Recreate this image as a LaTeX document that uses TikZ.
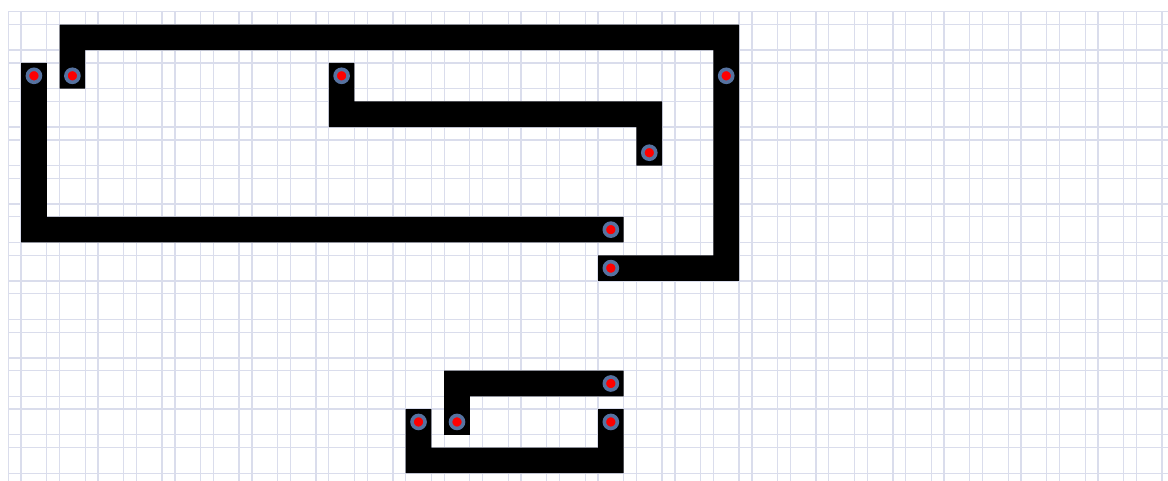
\documentclass[tikz,border=0pt]{standalone}
\usepackage{tikz}
\definecolor{gridline}{RGB}{218,221,236}
\definecolor{pinring}{RGB}{86,114,160}
\tikzset{
  track/.style={fill=black},
  pin/.style={circle, fill=red, draw=pinring, line width=0.112cm, inner sep=0pt, minimum size=0.406cm},
}
\begin{document}
\begin{tikzpicture}[x=0.4cm, y=-0.4cm, line join=miter]
\useasboundingbox (-0.647,-0.913) rectangle (90.46,36.53);
\begin{scope}
\clip (-0.647,-0.913) rectangle (90.46,36.53);
% grid paper, every third line left out
\foreach \k in {0,3,...,90}{
  \draw[gridline, line width=1.2pt] (\k,0) -- (\k,36.6);
  \draw[gridline, line width=1.2pt] (\k+1,0) -- (\k+1,36.6);
}
\foreach \j in {0,3,...,36}{
  \draw[gridline, line width=1.2pt] (0,\j) -- (90.6,\j);
  \draw[gridline, line width=1.2pt] (0,\j+1) -- (90.6,\j+1);
}
\end{scope}
% tracks
\fill[track] (1,4) -- (3,4) -- (3,16) -- (48,16) -- (48,18) -- (1,18) -- cycle;
\fill[track] (4,6) -- (4,1) -- (57,1) -- (57,21) -- (46,21) -- (46,19) -- (55,19) -- (55,3) -- (6,3) -- (6,6) -- cycle;
\fill[track] (25,4) -- (27,4) -- (27,7) -- (51,7) -- (51,12) -- (49,12) -- (49,9) -- (25,9) -- cycle;
\fill[track] (34,33) -- (34,28) -- (48,28) -- (48,30) -- (36,30) -- (36,33) -- cycle;
\fill[track] (31,31) -- (33,31) -- (33,34) -- (46,34) -- (46,31) -- (48,31) -- (48,36) -- (31,36) -- cycle;
% pins
\node[pin] (a1) at (2,5) {};
\node[pin] (a2) at (47,17) {};
\node[pin] (b1) at (5,5) {};
\node[pin] (b2) at (56,5) {};
\node[pin] (b3) at (47,20) {};
\node[pin] (c1) at (26,5) {};
\node[pin] (c2) at (50,11) {};
\node[pin] (d1) at (32,32) {};
\node[pin] (d2) at (47,32) {};
\node[pin] (e1) at (35,32) {};
\node[pin] (e2) at (47,29) {};
\end{tikzpicture}
\end{document}
